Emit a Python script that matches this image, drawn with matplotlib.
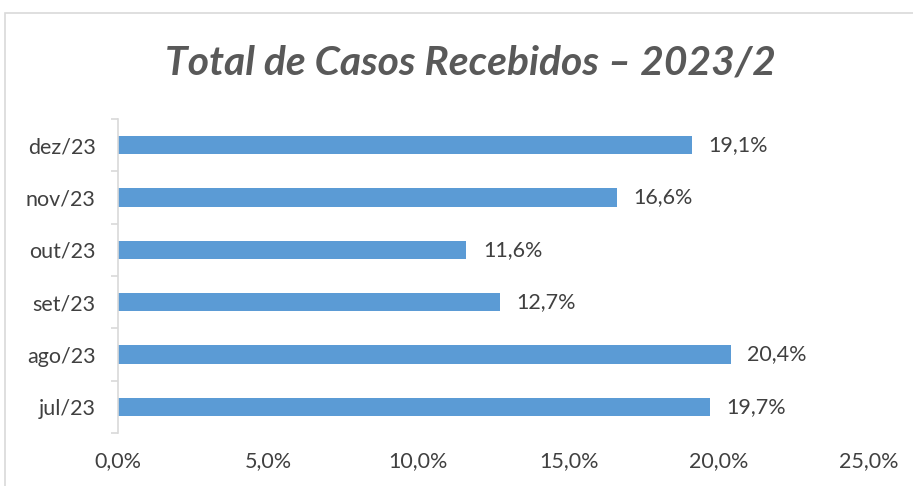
import matplotlib
matplotlib.use("Agg")
import matplotlib.pyplot as plt
from matplotlib.patches import Rectangle

# monthly share of received cases, second half of 2023
months = ["jul/23", "ago/23", "set/23", "out/23", "nov/23", "dez/23"]
shares = [19.7, 20.4, 12.7, 11.6, 16.6, 19.1]
xticks = [0, 5, 10, 15, 20, 25]

BAR = "#5B9BD5"
TXT = "#404040"
GRID = "#D9D9D9"
FS = 15.5

def pct(v):
	return ("%.1f%%" % v).replace(".", ",")

fig = plt.figure(figsize=(9.13, 4.86), dpi=100)
ax = fig.add_axes([118/913, 1-433/486, (869-118)/913, (433-119)/486])

# outer chart frame
fig.patches.append(Rectangle((5/913, -0.1), 1.2, 1-13/486+0.1, transform=fig.transFigure,
	fill=False, edgecolor=GRID, linewidth=1.2))

y = list(range(len(months)))
ax.barh(y, shares, height=0.35, color=BAR, zorder=2)
for yi, v in zip(y, shares):
	ax.text(v + 0.55, yi, pct(v), va="center", ha="left", fontsize=FS,
		color=TXT, family="Lato")

ax.set_xlim(0, 25)
ax.set_ylim(-0.5, len(months)-0.5)
ax.set_xticks(xticks)
ax.set_xticklabels([pct(v) for v in xticks], fontsize=FS, color=TXT, family="Lato")
ax.set_yticks(y)
ax.set_yticklabels(months, fontsize=FS, color=TXT, family="Lato")
ax.set_yticks([i-0.5 for i in range(len(months)+1)], minor=True)

for s in ["top", "right", "bottom"]:
	ax.spines[s].set_visible(False)
ax.spines["left"].set_color(GRID)
ax.spines["left"].set_linewidth(1.2)
ax.tick_params(axis="x", length=0, pad=13)
ax.tick_params(axis="y", which="major", length=0, pad=16)
ax.tick_params(axis="y", which="minor", length=5, color=GRID, width=1.2)

fig.text(470/913, 1-63/486, "Total de Casos Recebidos \u2013 2023/2", ha="center", va="center",
	fontsize=29.3, fontweight="bold", style="italic", color="#595959",
	family=["Lato", "DejaVu Sans"])

fig.savefig("out.png", dpi=100)
